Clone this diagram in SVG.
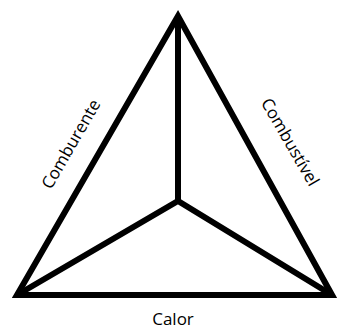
<svg xmlns="http://www.w3.org/2000/svg" width="337" height="329" viewBox="0 0 337 329">
<style>
.ln{fill:none;stroke:#000;stroke-width:6;stroke-linejoin:miter;stroke-linecap:butt}
.lb{font-family:"Open Sans","Liberation Sans",sans-serif;font-size:17px;fill:#000;text-anchor:middle}
</style>
<rect width="337" height="329" fill="#fff"/>
<g id="connectors">
<polygon class="ln" points="178,16 17,295 332,295"/>
<polyline class="ln" points="178,16 178,201" style="stroke-linejoin:round"/>
<polyline class="ln" points="17,295 178,201 332,295"/>
</g>
<g id="comburente"><text class="lb" transform="translate(76,147) rotate(-60)">Comburente</text></g>
<g id="combustivel"><text class="lb" transform="translate(285,145) rotate(60)">Combustível</text></g>
<g id="calor"><text class="lb" x="173" y="325">Calor</text></g>
</svg>
